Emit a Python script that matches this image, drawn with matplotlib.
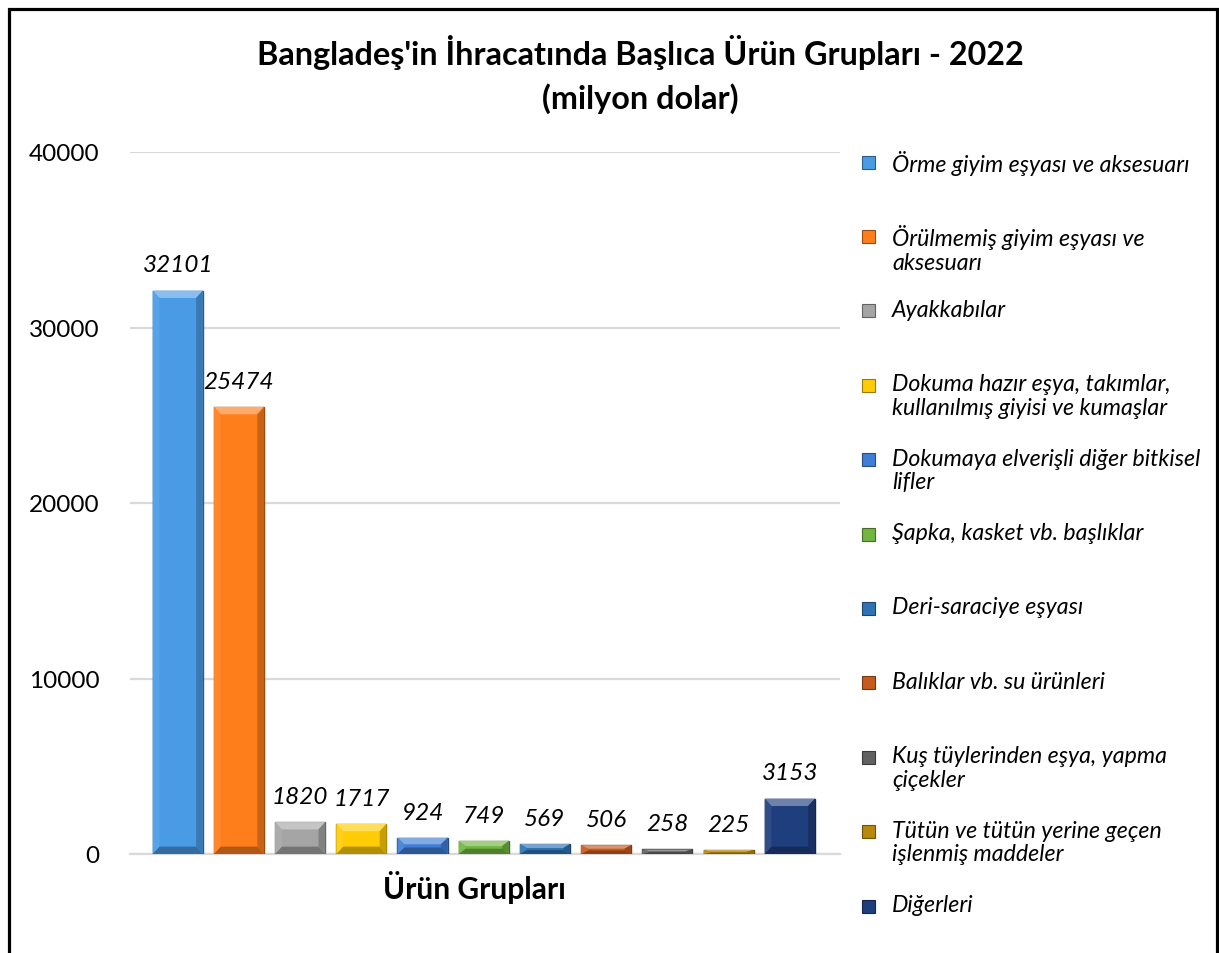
import matplotlib
matplotlib.use("Agg")
from matplotlib import pyplot as plt
from matplotlib.patches import Polygon, Rectangle
import matplotlib.colors as mcolors

plt.rcParams["font.family"] = ["Lato", "DejaVu Sans"]

TITLE = "Bangladeş'in İhracatında Başlıca Ürün Grupları - 2022\n(milyon dolar)"
XLABEL = "Ürün Grupları"

categories = [
    "Örme giyim eşyası ve aksesuarı",
    "Örülmemiş giyim eşyası ve\naksesuarı",
    "Ayakkabılar",
    "Dokuma hazır eşya, takımlar,\nkullanılmış giyisi ve kumaşlar",
    "Dokumaya elverişli diğer bitkisel\nlifler",
    "Şapka, kasket vb. başlıklar",
    "Deri-saraciye eşyası",
    "Balıklar vb. su ürünleri",
    "Kuş tüylerinden eşya, yapma\nçiçekler",
    "Tütün ve tütün yerine geçen\nişlenmiş maddeler",
    "Diğerleri",
]
values = [32101, 25474, 1820, 1717, 924, 749, 569, 506, 258, 225, 3153]
colors = ["#4A9BE5", "#FF7E1C", "#A5A5A5", "#FFCC05", "#3F7ED6", "#72B541",
          "#2E72B3", "#C65B1E", "#616161", "#B8890C", "#1F3E7E"]
yticks = [0, 10000, 20000, 30000, 40000]

W, H = 1219, 954


def shade(color, f):
    r, g, b = mcolors.to_rgb(color)
    if f >= 0:
        return (r + (1 - r) * f, g + (1 - g) * f, b + (1 - b) * f)
    return (r * (1 + f), g * (1 + f), b * (1 + f))


def bevel_bar(ax, x, h, w, color):
    ax.bar(x, h, w, color=color, edgecolor=shade(color, -0.4), linewidth=1.0, zorder=3)
    dx = 0.11
    dy = min(420, h * 0.4)
    l, r = x - w / 2, x + w / 2
    faces = [
        ([(l, h), (r, h), (r - dx, h - dy), (l + dx, h - dy)], 0.35),
        ([(l, 0), (r, 0), (r - dx, dy), (l + dx, dy)], -0.3),
        ([(l, 0), (l, h), (l + dx, h - dy), (l + dx, dy)], 0.08),
        ([(r, 0), (r, h), (r - dx, h - dy), (r - dx, dy)], -0.22),
    ]
    for pts, f in faces:
        ax.add_patch(Polygon(pts, closed=True, facecolor=shade(color, f),
                             edgecolor="none", zorder=4))


fig = plt.figure(figsize=(W / 100, H / 100), dpi=100)
ax = fig.add_axes([130 / W, 1 - 855 / H, 710 / W, 702 / H])

x = list(range(len(values)))
for xi, v, c in zip(x, values, colors):
    bevel_bar(ax, xi, v, 0.82, c)
    ax.annotate(f"{v}", (xi, v), xytext=(0, 18.5), textcoords="offset points",
                ha="center", va="center", fontsize=17.5, style="italic", color="black")

ax.set_xlim(-0.78, 10.82)
ax.set_ylim(0, 40000)
ax.set_yticks(yticks)
ax.set_yticklabels([str(t) for t in yticks])
ax.tick_params(axis="y", length=0, pad=22, labelsize=17.5)
ax.set_xticks([])
ax.yaxis.grid(True, color="#D9D9D9", linewidth=1.6)
ax.set_axisbelow(True)
for s in ["top", "right", "left"]:
    ax.spines[s].set_visible(False)
ax.spines["bottom"].set_color("#D9D9D9")
ax.spines["bottom"].set_linewidth(1.6)

fig.text(640 / W, 1 - 35 / H, TITLE, ha="center", va="top", fontsize=23.3,
         fontweight="bold", linespacing=1.5)
fig.text(474 / W, 1 - 887 / H, XLABEL, ha="center", va="center", fontsize=21.5,
         fontweight="bold")

# legend drawn by hand so each marker sits on the first line of its entry
for i, (lab, c) in enumerate(zip(categories, colors)):
    yc = 163 + i * 74.4
    fig.patches.append(Rectangle((862 / W, 1 - (yc + 6.5) / H), 13 / W, 13 / H,
                                 transform=fig.transFigure, facecolor=c,
                                 edgecolor=shade(c, -0.4), linewidth=0.8))
    fig.text(892 / W, 1 - (yc - 12) / H, lab, ha="left", va="top", fontsize=16.7,
             style="italic", linespacing=1.15)

fig.patches.append(Rectangle((8.5 / W, -0.05), 1208 / W, 1.05 - 9.5 / H,
                             transform=fig.transFigure, fill=False,
                             edgecolor="black", linewidth=2.3))

fig.savefig("out.png", dpi=100)
